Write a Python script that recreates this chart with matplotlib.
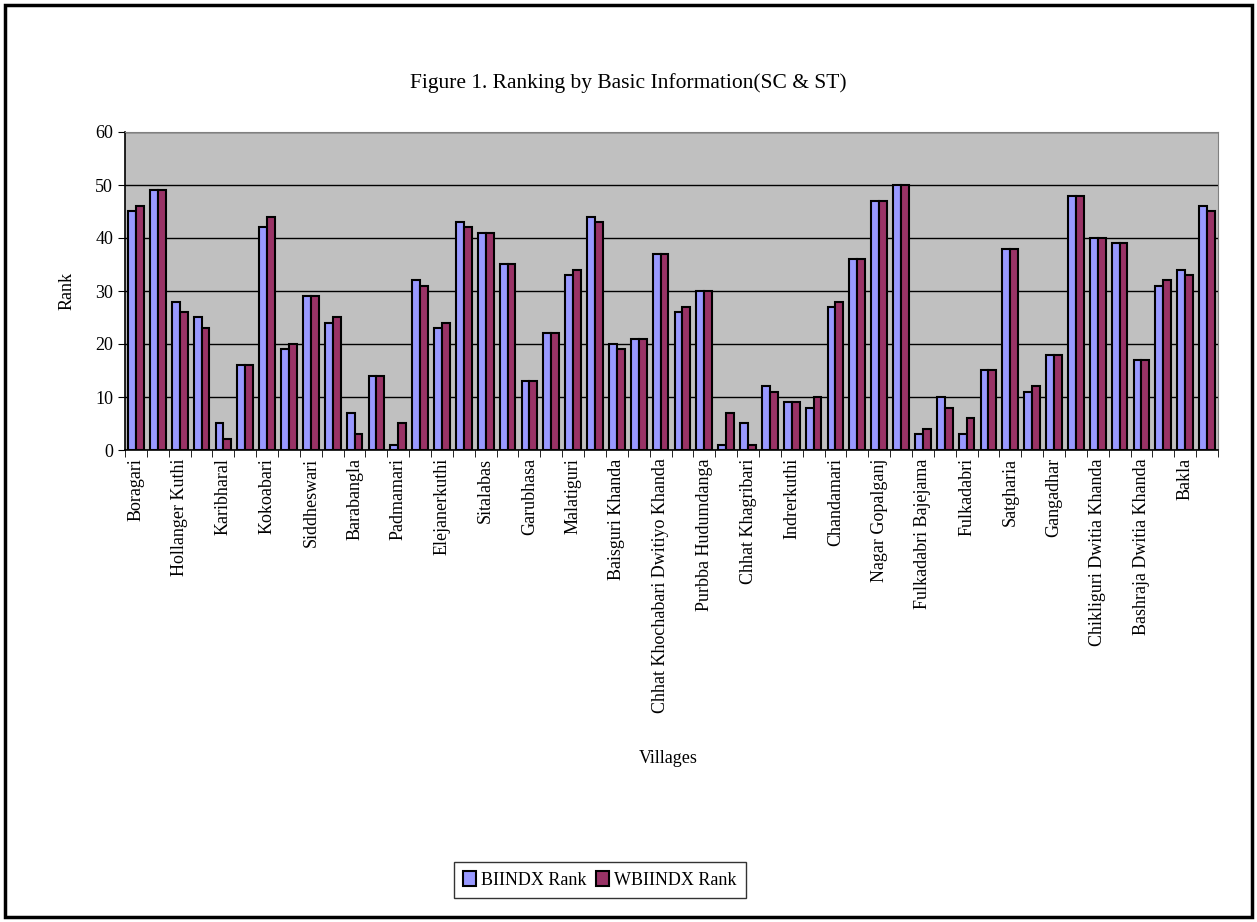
import numpy as np
import matplotlib
matplotlib.use('Agg')
import matplotlib.pyplot as plt
from matplotlib.patches import Rectangle

# labels shown on the axis (every other village)
shown_labels = ['Boragari', 'Hollanger Kuthi', 'Karibharal', 'Kokoabari', 'Siddheswari',
                'Barabangla', 'Padmamari', 'Elejanerkuthi', 'Sitalabas', 'Garubhasa',
                'Malatiguri', 'Baisguri Khanda', 'Chhat Khochabari Dwitiyo Khanda',
                'Purbba Hudumdanga', 'Chhat Khagribari', 'Indrerkuthi', 'Chandamari',
                'Nagar Gopalganj', 'Fulkadabri Bajejama', 'Fulkadabri', 'Satgharia',
                'Gangadhar', 'Chikliguri Dwitia Khanda', 'Bashraja Dwitia Khanda', 'Bakla']

biindx = [45, 49, 28, 25, 5, 16, 42, 19, 29, 24, 7, 14, 1, 32, 23, 43, 41, 35, 13, 22,
          33, 44, 20, 21, 37, 26, 30, 1, 5, 12, 9, 8, 27, 36, 47, 50, 3, 10, 3, 15,
          38, 11, 18, 48, 40, 39, 17, 31, 34, 46]
wbiindx = [46, 49, 26, 23, 2, 16, 44, 20, 29, 25, 3, 14, 5, 31, 24, 42, 41, 35, 13, 22,
           34, 43, 19, 21, 37, 27, 30, 7, 1, 11, 9, 10, 28, 36, 47, 50, 4, 8, 6, 15,
           38, 12, 18, 48, 40, 39, 17, 32, 33, 45]

plt.rcParams['font.family'] = ['Liberation Serif', 'DejaVu Serif']

fig = plt.figure(figsize=(12.57, 9.22), dpi=100)
ax = fig.add_axes([125/1257, 1-450/922, (1218-125)/1257, (450-132)/922])

x = np.arange(len(biindx))
w = 0.36
ax.bar(x - w/2, biindx, w, color='#9999FF', edgecolor='black', linewidth=1.5,
       label='BIINDX Rank', zorder=3)
ax.bar(x + w/2, wbiindx, w, color='#993366', edgecolor='black', linewidth=1.5,
       label='WBIINDX Rank', zorder=3)

ax.set_facecolor('#C0C0C0')
ax.set_xlim(-0.5, len(biindx) - 0.5)
ax.set_ylim(0, 60)
ax.set_yticks(range(0, 61, 10))
ax.yaxis.grid(True, color='black', linewidth=1, zorder=0)
ax.set_axisbelow(True)

# minor ticks at group boundaries, labels every other group
ax.set_xticks(np.arange(-0.5, len(biindx), 1), minor=True)
ax.set_xticks(x[::2])
ax.set_xticklabels(shown_labels, rotation=90, fontsize=13)
ax.tick_params(axis='x', which='major', length=0, pad=6)
ax.tick_params(axis='x', which='minor', length=5, color='black', direction='out')
ax.tick_params(axis='y', labelsize=13, length=5, direction='out')

for s in ['top', 'right']:
    ax.spines[s].set_color('#808080')
for s in ['left', 'bottom']:
    ax.spines[s].set_color('black')
    ax.spines[s].set_linewidth(1.2)

ax.set_ylabel('Rank', fontsize=13, labelpad=14)
fig.text(668/1257, 1-758/922, 'Villages', fontsize=13, ha='center', va='center')
fig.text(628/1257, 1-83/922, 'Figure 1. Ranking by Basic Information(SC & ST)',
         fontsize=15.5, ha='center', va='center')

leg = fig.legend(loc='center', bbox_to_anchor=(600/1257, 1-880/922), ncol=2,
                 fontsize=13, frameon=True, fancybox=False, edgecolor='black',
                 handlelength=0.7, handleheight=0.9, handletextpad=0.3,
                 columnspacing=0.5, borderpad=0.5)
leg.get_frame().set_linewidth(1)

fig.patches.append(Rectangle((5/1257, 5/922), 1247/1257, 912/922, transform=fig.transFigure,
                             fill=False, edgecolor='black', linewidth=2.5))

fig.savefig('out.png', dpi=100)
